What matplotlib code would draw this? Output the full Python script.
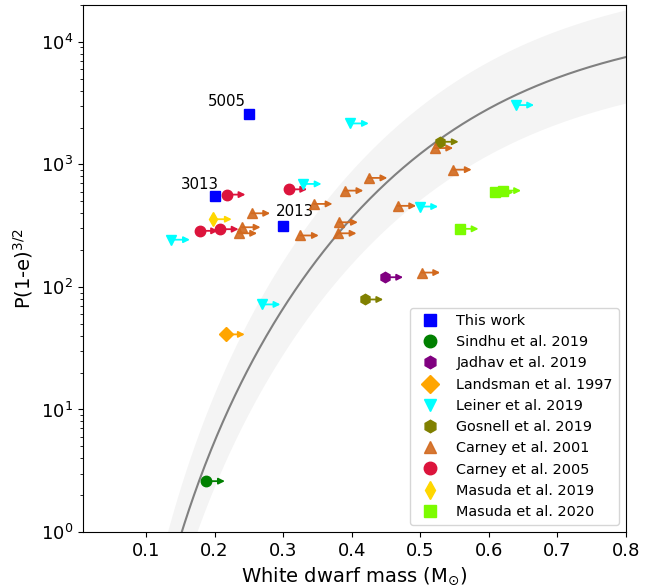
import numpy as np
from matplotlib import pyplot

# white dwarf mass (Msun) and P(1-e)^{3/2} (days) for each sample
this_work_m = [0.25, 0.20, 0.30]
this_work_p = [2590, 556, 317]
this_work_names = ["5005", "3013", "2013"]

sindhu_m = [0.188]
sindhu_p = [2.6]

jadhav_m = [0.448]
jadhav_p = [120]

landsman_m = [0.217]
landsman_p = [41]

leiner_m = [0.137, 0.269, 0.329, 0.398, 0.499, 0.639]
leiner_p = [243, 72, 693, 2160, 453, 3050]

gosnell_m = [0.419, 0.529]
gosnell_p = [79, 1530]

carney01_m = [0.235, 0.240, 0.254, 0.325, 0.345, 0.380, 0.382,
              0.390, 0.425, 0.467, 0.502, 0.521, 0.548]
carney01_p = [274, 307, 399, 263, 476, 274, 337,
              611, 776, 459, 131, 1360, 906]

carney05_m = [0.178, 0.208, 0.218, 0.308]
carney05_p = [287, 296, 567, 626]

masuda19_m = [0.198]
masuda19_p = [357]

masuda20_m = [0.558, 0.609, 0.620]
masuda20_p = [298, 592, 611]

# Rappaport et al. (1995) P-Mwd relation with its factor ~2.4 spread
P0 = 1.3e5
SPREAD = 2.4


def p_mwd(m):
    return P0 * m ** 6.25 / (1 + 4 * m ** 4) ** 1.5


def lower_limits(ax, xs, ys, color, dx=0.027):
    for x, y in zip(xs, ys):
        ax.annotate("", xy=(x + dx, y), xytext=(x, y),
                    arrowprops=dict(arrowstyle="-|>", color=color, lw=1.3,
                                    mutation_scale=9, shrinkA=0, shrinkB=0),
                    zorder=3)


pyplot.rcParams["font.family"] = "DejaVu Sans"
fig = pyplot.figure(figsize=(6.65, 5.87), dpi=100)
ax = fig.add_axes([0.1248, 0.0937, 0.8165, 0.8978])

m = np.linspace(0.1, 0.8, 400)
ax.fill_between(m, p_mwd(m) / SPREAD, p_mwd(m) * SPREAD, color="#f4f4f4", lw=0, zorder=1)
ax.plot(m, p_mwd(m), color="gray", lw=1.5, zorder=2)

samples = [
    (sindhu_m, sindhu_p, "green", "o", "Sindhu et al. 2019", 1.0),
    (jadhav_m, jadhav_p, "purple", "h", "Jadhav et al. 2019", 1.0),
    (landsman_m, landsman_p, "orange", "D", "Landsman et al. 1997", 1.0),
    (leiner_m, leiner_p, "cyan", "v", "Leiner et al. 2019", 1.0),
    (gosnell_m, gosnell_p, "olive", "h", "Gosnell et al. 2019", 1.0),
    (carney01_m, carney01_p, "chocolate", "^", "Carney et al. 2001", 0.9),
    (carney05_m, carney05_p, "crimson", "o", "Carney et al. 2005", 1.0),
    (masuda19_m, masuda19_p, "gold", "d", "Masuda et al. 2019", 1.0),
    (masuda20_m, masuda20_p, "lawngreen", "s", "Masuda et al. 2020", 1.0),
]

ax.plot(this_work_m, this_work_p, "s", color="blue", ms=7.5, ls="none",
        label="This work", zorder=5)
label_offsets = {"5005": (-15.8, 8.6), "3013": (-10.8, 8.3), "2013": (8.6, 10)}
for x, y, name in zip(this_work_m, this_work_p, this_work_names):
    ax.annotate(name, (x, y), xytext=label_offsets[name], textcoords="offset points",
                ha="center", va="center", fontsize=10.8)

for xs, ys, color, marker, label, alpha in samples:
    lower_limits(ax, xs, ys, color)
    ax.plot(xs, ys, marker, color=color, ms=7.5, ls="none", alpha=alpha,
            label=label, zorder=4)

ax.set_yscale("log")
ax.set_xlim(0.008, 0.8)
ax.set_ylim(1, 2e4)
ax.set_xticks([0.1, 0.2, 0.3, 0.4, 0.5, 0.6, 0.7, 0.8])
ax.tick_params(axis="both", which="major", labelsize=13)
ax.set_xlabel(r"White dwarf mass (M$_{\odot}$)", fontsize=14)
ax.set_ylabel(r"P(1-e)$^{3/2}$", fontsize=14)

ax.legend(loc="lower right", fontsize=10.4, markerscale=1.2)

fig.savefig("out.png", dpi=100)
